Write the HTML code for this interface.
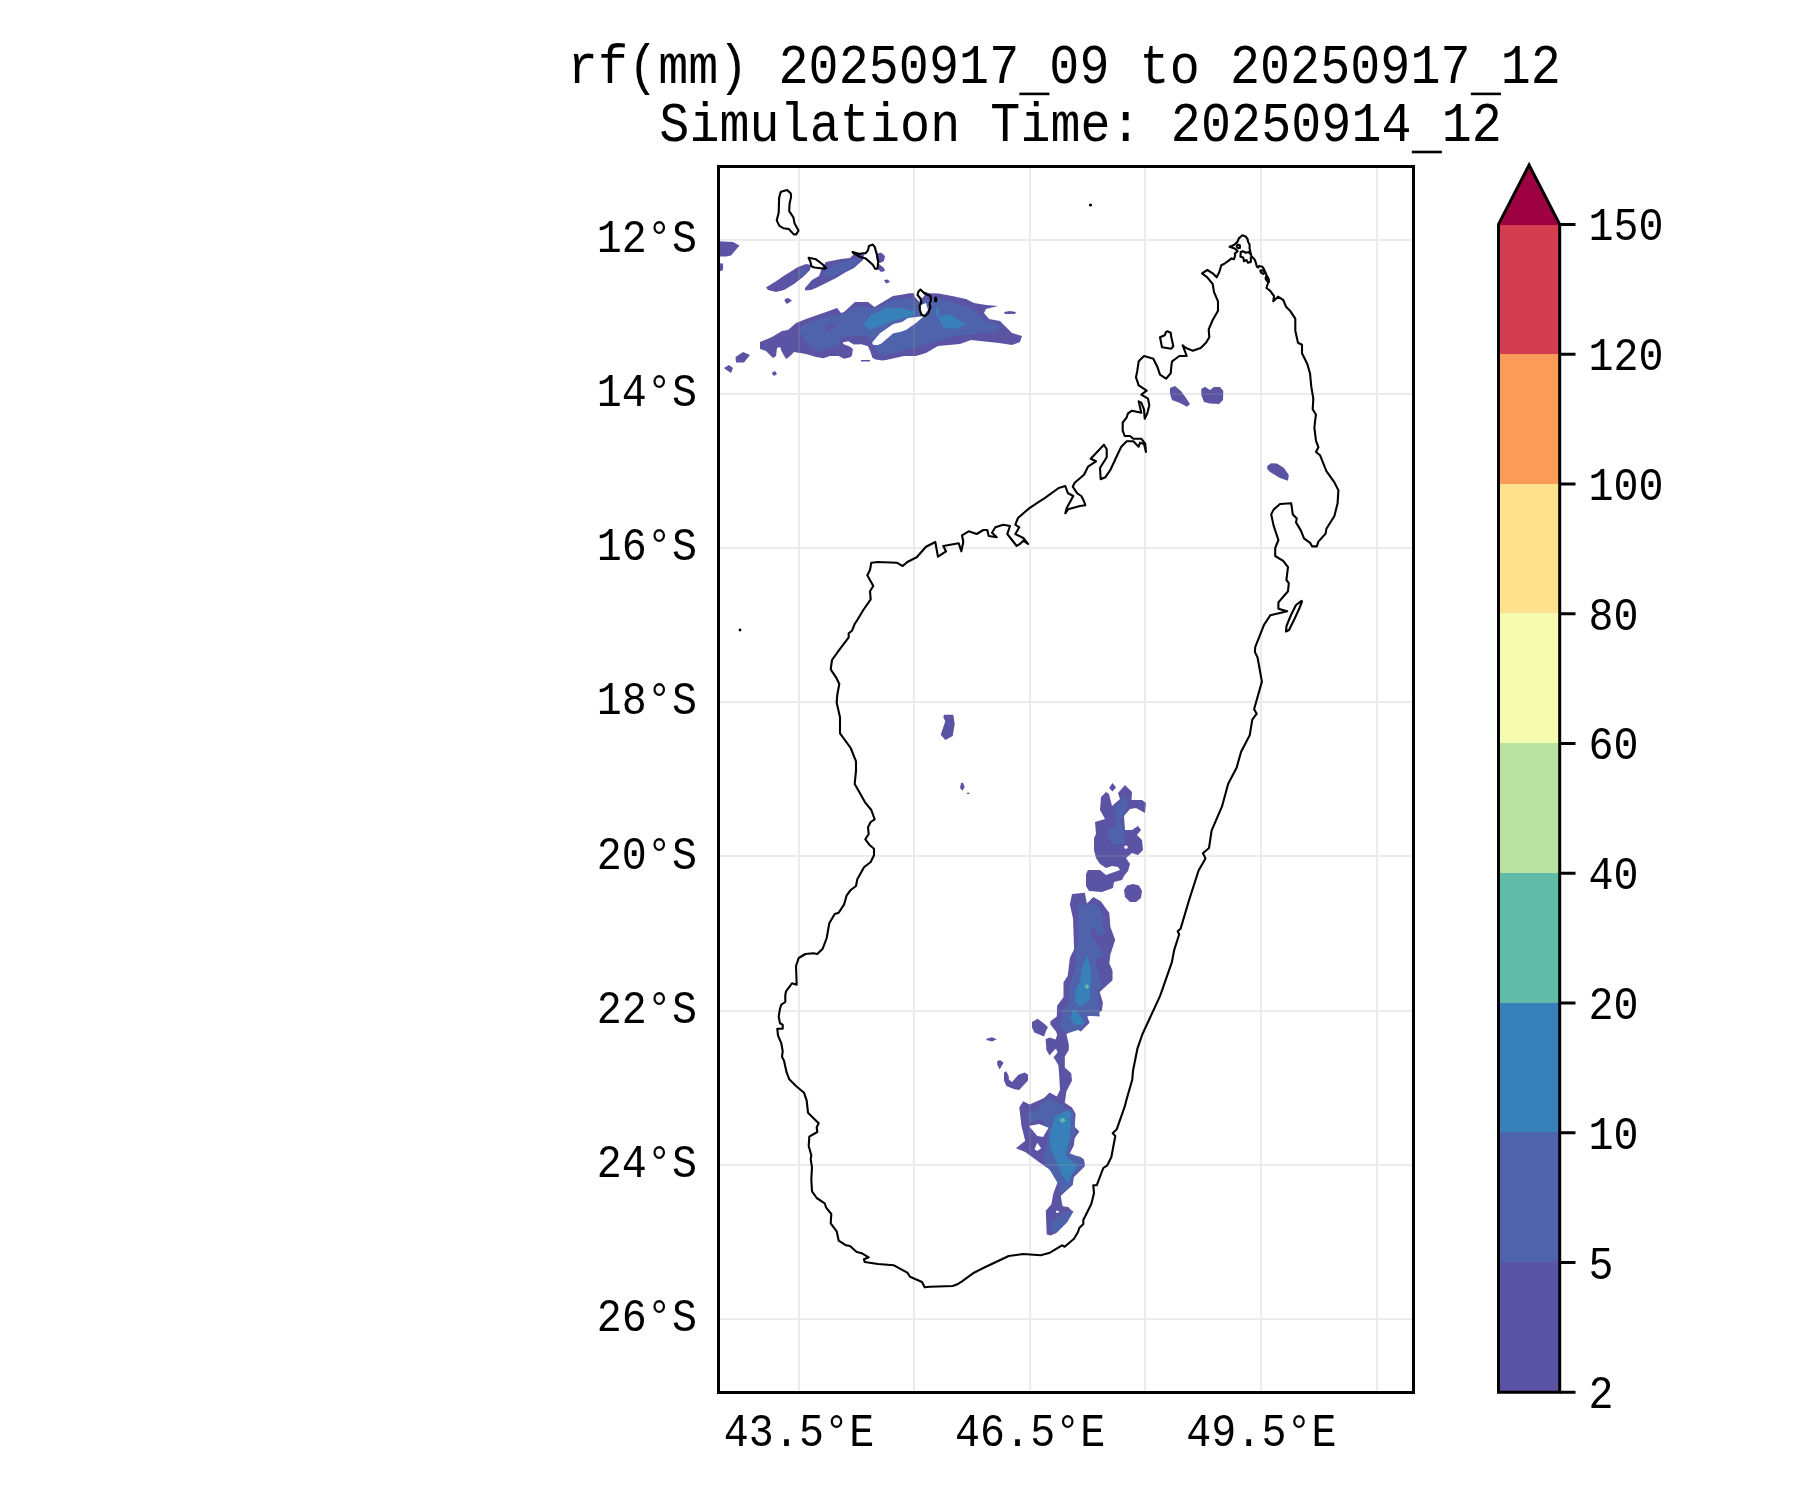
<!DOCTYPE html>
<html><head><meta charset="utf-8"><style>
html,body{margin:0;padding:0;background:#fff;width:1800px;height:1500px;overflow:hidden}
svg{display:block}
text{font-family:"Liberation Mono",monospace;fill:#000}
.t{filter:drop-shadow(0 0 0 transparent)}
</style></head><body>
<svg width="1800" height="1500" viewBox="0 0 1800 1500">
<defs><clipPath id="clip"><rect x="718.5" y="166.5" width="695.0" height="1226.0"/></clipPath></defs>
<g clip-path="url(#clip)"><path d="M714.0 241.0L733.0 242.0L739.5 245.5L731.0 255.5L726.0 256.5L714.0 256.5Z" fill="#5b53a4"/>
<path d="M714.0 263.0L723.0 263.5L723.0 270.0L714.0 274.0Z" fill="#5b53a4"/>
<path d="M766.0 287.5L778.0 280.0L782.0 277.0L798.0 267.0L806.0 264.0L811.0 265.0L810.0 270.0L803.0 277.0L794.0 284.0L784.0 290.0L776.0 292.0L768.0 290.0Z" fill="#5b53a4"/>
<path d="M798.0 270.0L806.0 268.0L804.0 275.0L798.0 276.0Z" fill="#4e63ac"/>
<path d="M805.0 288.0L812.0 280.0L819.0 276.0L822.0 268.0L826.0 262.0L841.0 259.0L850.0 258.0L854.0 254.0L864.0 255.0L863.0 260.0L854.0 268.0L846.0 272.0L836.0 278.0L826.0 283.0L816.0 288.0L811.0 290.0L805.0 290.5Z" fill="#5b53a4"/>
<path d="M823.0 273.0L836.0 264.0L851.0 260.0L861.0 258.0L856.0 264.0L846.0 270.0L831.0 277.0L824.0 278.0Z" fill="#4e63ac"/>
<path d="M785.0 299.0L788.0 298.0L792.0 300.5L787.0 304.0L784.5 301.0Z" fill="#5b53a4"/>
<path d="M876.0 254.0L881.0 252.5L885.0 256.0L884.0 261.0L880.0 263.0L877.0 262.0Z" fill="#5b53a4"/>
<path d="M879.0 264.0L884.0 268.0L885.0 271.0L881.0 272.0L878.0 269.0Z" fill="#5b53a4"/>
<path d="M735.5 357.0L743.0 352.0L750.0 355.0L744.0 362.5L736.0 362.5Z" fill="#5b53a4"/>
<path d="M724.0 368.0L729.0 365.0L733.0 368.0L731.0 373.0L725.0 369.0Z" fill="#5b53a4"/>
<path d="M771.5 373.0L775.0 371.0L777.0 374.0L774.0 376.0Z" fill="#5b53a4"/>
<path d="M861.0 360.0L870.0 360.0L870.0 361.5L861.0 361.5Z" fill="#5b53a4"/>
<path d="M760.0 342.0L772.0 337.0L782.0 331.0L788.0 330.0L796.0 323.0L806.0 319.0L826.0 312.0L837.0 308.0L841.0 313.0L844.0 312.0L855.0 302.0L868.0 302.0L874.5 307.0L893.0 296.0L904.2 294.2L909.2 293.2L913.9 293.2L914.7 296.7L919.3 301.8L921.0 300.0L920.0 295.0L925.0 292.0L929.8 293.2L938.8 293.4L952.0 296.0L966.0 299.0L974.0 303.0L986.0 305.0L998.0 306.0L986.0 309.0L984.0 313.0L989.0 319.0L1000.0 321.0L1012.0 333.0L1022.0 336.0L1020.0 342.0L1012.0 345.0L999.0 343.0L971.0 340.0L960.0 344.0L938.0 346.0L926.0 353.0L916.0 356.0L904.0 356.0L886.0 360.0L882.2 360.4L875.6 359.6L872.4 357.8L870.2 351.1L868.0 346.2L861.3 344.2L853.8 344.4L848.4 341.3L843.1 342.2L843.1 344.0L850.2 346.7L852.9 348.9L852.0 355.6L850.2 357.3L844.0 358.7L838.7 356.0L829.8 356.0L823.6 358.2L816.0 357.0L806.0 354.0L794.0 352.0L789.0 357.0L786.0 359.0L782.0 352.0L780.0 347.0L777.0 348.0L776.0 356.0L773.0 358.0L766.0 351.0L760.0 349.0Z" fill="#5b53a4"/>
<path d="M799.0 329.0L806.0 323.0L826.0 317.0L836.0 315.0L845.0 313.0L855.0 306.0L876.0 308.0L894.0 299.0L909.6 297.9L915.4 301.0L919.0 303.0L922.0 300.0L933.0 297.9L938.8 298.3L950.5 301.4L962.0 305.3L971.0 308.0L976.0 312.0L984.0 320.0L998.0 324.0L1001.0 328.0L994.0 332.0L971.0 334.0L951.0 337.0L936.0 342.0L926.0 344.0L906.0 350.0L882.2 355.6L875.6 348.9L868.0 336.9L857.8 335.6L841.3 337.8L838.7 344.9L829.8 347.6L820.0 352.0L816.0 350.0L806.0 342.0L802.0 336.0Z" fill="#4e63ac"/>
<path d="M863.0 324.0L871.0 315.0L886.0 308.0L901.0 308.0L916.0 312.0L912.0 316.0L896.0 320.0L881.0 326.0L869.0 330.0Z" fill="#3880b9"/>
<path d="M938.0 318.0L949.0 314.0L966.0 324.0L956.0 329.0L944.0 328.0Z" fill="#3880b9"/>
<path d="M936.0 308.0L939.0 308.0L939.0 317.0L936.0 316.0Z" fill="#3880b9"/>
<path d="M872.0 342.7L880.0 333.3L893.3 324.0L902.0 322.0L908.0 318.0L924.0 316.0L916.0 323.0L906.0 330.0L900.0 332.0L893.3 333.3L881.3 343.6L877.8 344.9L873.3 344.9Z" fill="#ffffff"/>
<path d="M826.0 324.0L835.6 324.0L832.0 330.7L826.0 330.7Z" fill="#5b53a4"/>
<path d="M884.0 280.0L888.0 279.5L890.0 282.0L886.0 283.5Z" fill="#5b53a4"/>
<path d="M1004.0 312.0L1010.0 311.0L1016.0 312.0L1015.0 314.0L1005.0 314.0Z" fill="#5b53a4"/>
<path d="M921.0 305.0L926.0 303.0L928.0 310.0L924.0 315.0L920.0 311.0Z" fill="#ffffff"/>
<path d="M918.0 293.0L922.0 291.5L924.5 295.5L922.5 298.0L919.0 296.5Z" fill="#ffffff"/>
<path d="M1170.0 388.0L1175.0 386.0L1181.0 391.0L1186.0 398.0L1190.0 404.0L1187.0 406.7L1180.0 403.0L1172.0 400.0L1170.0 394.0Z" fill="#5b53a4"/>
<path d="M1201.3 389.0L1205.0 386.7L1210.0 390.0L1214.0 387.0L1220.0 387.0L1223.3 391.0L1223.0 400.0L1219.0 404.0L1210.0 403.5L1204.0 402.0L1201.3 395.0Z" fill="#5b53a4"/>
<path d="M1267.2 466.0L1271.0 463.2L1277.0 463.5L1284.0 468.0L1288.8 475.0L1288.0 480.8L1280.0 478.0L1270.0 472.0L1267.2 469.0Z" fill="#5b53a4"/>
<path d="M944.0 714.7L953.3 714.7L954.7 724.0L952.7 736.0L945.3 740.0L940.7 734.7L945.3 721.3L943.3 717.3Z" fill="#5b53a4"/>
<path d="M961.0 783.0L963.0 782.7L964.7 787.0L962.5 790.7L960.0 788.0Z" fill="#5b53a4"/>
<path d="M967.0 792.7L969.5 792.7L969.5 794.0L967.0 794.0Z" fill="#5b53a4"/>
<path d="M1109.0 788.0L1112.5 783.0L1116.0 787.5L1112.5 791.5Z" fill="#5b53a4"/>
<path d="M1106.0 792.0L1109.0 794.0L1112.0 806.0L1120.0 799.0L1118.0 793.0L1125.0 785.0L1132.0 792.0L1131.5 800.0L1142.0 800.0L1146.0 803.0L1145.0 813.0L1136.0 808.0L1130.0 809.0L1124.0 816.0L1125.0 830.0L1132.0 830.0L1138.0 826.0L1141.0 830.0L1137.0 835.0L1142.0 840.0L1143.0 850.0L1138.0 855.0L1132.0 853.0L1126.0 858.0L1130.0 864.0L1128.0 871.0L1124.0 876.0L1122.0 880.0L1114.0 882.0L1113.0 888.0L1102.0 892.0L1089.0 891.0L1086.0 886.0L1086.0 874.0L1088.0 870.0L1100.0 870.0L1106.0 875.0L1120.0 870.0L1118.0 867.0L1112.0 866.0L1106.0 868.0L1100.0 864.0L1096.0 858.0L1094.0 850.0L1094.0 838.0L1096.0 834.0L1095.0 822.0L1105.0 819.0L1100.0 810.0L1101.0 797.0Z" fill="#5b53a4"/>
<path d="M1114.0 810.0L1120.0 802.0L1125.0 793.0L1128.0 803.0L1124.0 815.0L1120.0 820.0L1124.0 832.0L1124.0 844.0L1112.0 845.0L1106.0 830.0L1115.0 828.0L1117.0 818.0Z" fill="#4e63ac"/>
<path d="M1124.0 846.0L1127.0 845.5L1128.0 848.0L1125.0 849.0Z" fill="#ffffff"/>
<path d="M1133.0 884.0L1139.0 885.5L1142.0 891.0L1141.0 898.0L1136.0 902.0L1130.0 902.0L1125.0 897.0L1124.0 890.0L1127.0 885.5Z" fill="#5b53a4"/>
<path d="M1072.0 893.9L1084.8 892.8L1086.9 903.5L1093.3 897.1L1100.8 901.3L1109.3 913.0L1110.4 926.9L1115.2 939.7L1110.4 954.6L1109.3 963.2L1112.5 970.6L1112.5 980.2L1099.7 991.9L1102.9 1002.6L1101.8 1011.1L1095.2 1014.0L1087.2 1016.4L1089.6 1022.8L1080.8 1031.6L1076.0 1028.4L1066.4 1034.0L1068.8 1044.4L1068.8 1050.0L1064.8 1056.4L1064.8 1067.6L1071.2 1073.2L1072.0 1080.4L1066.4 1091.6L1064.8 1102.8L1072.0 1107.6L1075.6 1113.7L1074.7 1126.8L1079.4 1131.5L1074.7 1138.0L1073.8 1145.5L1069.1 1154.8L1080.3 1156.7L1084.0 1159.5L1085.0 1166.0L1073.8 1177.2L1072.8 1184.7L1060.7 1195.9L1062.6 1206.2L1068.2 1207.1L1072.8 1211.8L1067.2 1222.0L1056.0 1233.2L1050.4 1235.6L1046.7 1234.2L1045.8 1210.8L1051.4 1204.3L1053.2 1194.0L1057.0 1183.8L1060.7 1177.2L1039.2 1162.3L1025.2 1152.0L1015.9 1148.3L1025.2 1140.8L1021.5 1125.9L1019.6 1110.0L1019.2 1107.6L1023.2 1101.2L1029.6 1104.4L1044.0 1098.0L1049.6 1092.4L1056.8 1096.4L1060.0 1090.0L1059.2 1075.6L1058.4 1065.2L1053.6 1057.2L1057.6 1052.4L1056.0 1048.4L1053.6 1050.8L1049.6 1055.6L1046.4 1050.0L1045.6 1039.2L1049.6 1037.6L1055.6 1039.6L1057.2 1034.8L1056.0 1031.6L1050.4 1024.4L1050.4 1021.2L1056.8 1016.4L1057.1 1005.8L1063.5 997.3L1063.5 982.3L1067.7 975.9L1069.9 957.8L1074.1 949.3L1073.0 918.4L1069.9 904.5Z" fill="#5b53a4"/>
<path d="M1078.4 901.3L1086.9 905.6L1095.4 903.5L1104.0 916.2L1101.8 922.6L1106.1 933.3L1099.7 935.4L1091.2 926.9L1091.2 935.4L1104.0 954.6L1095.4 958.9L1101.8 986.6L1097.6 990.9L1099.7 1016.5L1085.8 1015.4L1086.9 1021.8L1080.5 1029.3L1066.7 1033.5L1059.2 1026.1L1063.5 1007.9L1068.8 1003.7L1068.8 986.6L1075.2 969.6L1076.2 948.2L1078.4 941.8L1078.4 907.7Z" fill="#4e63ac"/>
<path d="M1086.9 955.7L1090.1 965.3L1091.2 975.9L1090.1 986.6L1090.1 999.4L1080.5 1006.9L1075.2 1001.6L1075.2 990.9L1080.5 980.2L1081.6 968.5Z" fill="#3880b9"/>
<path d="M1074.1 1007.9L1082.6 1018.6L1084.8 1023.9L1075.2 1025.0L1069.9 1018.6Z" fill="#3880b9"/>
<path d="M1086.9 984.0L1089.5 986.6L1086.9 989.2L1084.3 986.6Z" fill="#60bba8"/>
<path d="M1025.6 1114.0L1036.0 1110.0L1048.0 1098.0L1060.0 1103.6L1068.0 1110.0L1073.8 1110.0L1074.7 1128.7L1076.6 1132.4L1072.8 1138.0L1069.1 1153.0L1082.2 1158.6L1081.2 1167.9L1072.8 1175.4L1072.8 1184.7L1060.7 1194.0L1057.0 1181.9L1048.6 1167.9L1043.0 1156.7L1046.7 1142.7L1048.6 1128.7L1041.1 1119.3L1029.9 1122.1Z" fill="#4e63ac"/>
<path d="M1054.4 1116.4L1068.0 1110.0L1071.0 1111.9L1070.0 1138.0L1065.4 1154.8L1070.0 1159.5L1077.5 1166.0L1071.0 1175.4L1068.2 1183.8L1059.8 1170.7L1050.4 1147.3L1049.5 1136.1L1055.1 1114.7Z" fill="#3880b9"/>
<path d="M1062.6 1117.5L1066.0 1120.3L1062.6 1123.0L1059.2 1120.3Z" fill="#60bba8"/>
<path d="M1051.4 1222.0L1065.4 1211.8L1073.8 1210.8L1067.2 1222.0L1057.0 1232.3L1051.4 1232.3Z" fill="#4e63ac"/>
<path d="M1028.9 1125.9L1039.2 1124.0L1048.6 1127.7L1043.0 1137.1L1037.3 1136.1Z" fill="#ffffff"/>
<path d="M1037.3 1142.7L1041.1 1148.3L1037.3 1151.1L1034.5 1149.2Z" fill="#ffffff"/>
<path d="M1056.0 1210.8L1058.8 1210.8L1058.8 1212.7L1056.0 1212.7Z" fill="#ffffff"/>
<path d="M1032.0 1022.0L1037.6 1018.8L1044.0 1023.6L1048.0 1027.2L1046.4 1030.0L1044.0 1036.4L1034.4 1032.4L1032.0 1027.6Z" fill="#5b53a4"/>
<path d="M986.4 1038.8L992.0 1037.2L996.8 1039.2L992.0 1041.6L986.4 1040.0Z" fill="#5b53a4"/>
<path d="M997.2 1061.2L1000.0 1060.0L1003.6 1062.8L999.6 1069.6L997.2 1064.4Z" fill="#5b53a4"/>
<path d="M1004.0 1072.4L1006.4 1071.2L1008.8 1076.4L1008.8 1079.6L1012.0 1082.0L1018.4 1074.8L1024.8 1072.4L1028.0 1074.8L1028.0 1080.4L1019.2 1090.0L1014.4 1089.2L1006.4 1086.0L1004.0 1080.4Z" fill="#5b53a4"/>
<path d="M799.0 166.5V1392.5M914.0 166.5V1392.5M1030.1 166.5V1392.5M1145.0 166.5V1392.5M1261.1 166.5V1392.5M1377.0 166.5V1392.5M718.5 240.0H1413.5M718.5 394.0H1413.5M718.5 548.0H1413.5M718.5 702.0H1413.5M718.5 856.0H1413.5M718.5 1011.0H1413.5M718.5 1165.0H1413.5M718.5 1319.0H1413.5" stroke="#a1a1a1" stroke-opacity="0.213" stroke-width="2" fill="none"/>
<path d="M1242.4 235.2L1245.6 236.4L1247.6 239.2L1248.0 241.6L1249.6 244.8L1249.6 248.8L1250.4 252.0L1251.2 255.2L1248.8 252.0L1246.0 252.8L1242.8 251.2L1240.8 252.0L1240.4 256.8L1243.2 257.6L1244.0 261.2L1246.4 260.0L1248.0 262.8L1250.8 262.0L1250.8 257.6L1251.6 256.4L1254.4 259.2L1255.6 262.0L1256.8 266.4L1258.0 267.6L1259.2 266.0L1262.4 266.8L1264.0 269.2L1266.0 274.0L1268.0 278.0L1268.4 282.0L1266.4 288.0L1270.0 290.7L1274.0 296.0L1273.3 301.3L1278.0 296.7L1283.3 300.0L1286.0 306.7L1290.0 310.7L1295.3 318.7L1295.3 330.7L1298.0 342.7L1302.0 344.7L1302.0 353.3L1307.3 364.0L1310.0 373.3L1311.3 386.7L1313.3 398.7L1312.7 409.3L1316.0 414.7L1315.2 420.0L1314.4 428.0L1316.0 440.8L1318.4 447.2L1316.0 452.0L1320.0 455.2L1326.4 471.2L1334.4 482.4L1338.4 490.4L1337.6 503.2L1334.4 516.0L1326.4 528.8L1325.6 533.6L1318.4 541.6L1316.8 546.4L1312.0 546.4L1310.4 543.2L1304.0 538.4L1300.8 530.4L1296.0 522.4L1296.8 518.4L1292.8 514.4L1291.2 503.2L1280.0 504.0L1273.6 509.6L1271.2 514.4L1273.6 525.6L1278.4 540.0L1275.2 548.0L1275.2 556.0L1283.2 560.8L1288.0 567.2L1286.4 580.0L1288.8 583.2L1288.0 591.2L1278.4 602.4L1278.4 608.8L1287.2 611.2L1270.4 615.2L1264.0 624.8L1255.2 647.2L1254.9 652.1L1257.5 657.3L1261.9 681.6L1254.1 709.3L1256.7 713.7L1252.3 719.7L1249.7 735.3L1241.1 751.8L1236.7 767.4L1228.1 783.9L1222.0 806.4L1211.6 830.7L1209.0 848.0L1202.9 853.2L1205.5 858.4L1198.6 870.5L1189.1 900.0L1180.7 928.4L1177.7 931.3L1179.2 934.3L1174.1 950.4L1171.9 962.1L1160.1 995.9L1142.5 1034.0L1137.4 1048.7L1133.0 1070.7L1132.3 1079.5L1126.4 1100.0L1124.7 1106.7L1116.7 1129.3L1112.7 1133.3L1115.3 1136.0L1111.3 1157.3L1107.3 1165.3L1103.3 1168.0L1096.7 1185.3L1093.3 1185.3L1094.0 1193.3L1091.3 1204.0L1083.3 1220.0L1083.3 1224.0L1079.3 1228.0L1078.0 1232.0L1074.0 1238.7L1064.7 1246.7L1062.0 1245.3L1050.0 1252.7L1040.7 1255.3L1023.3 1254.0L1008.7 1256.0L983.3 1268.0L974.0 1272.7L962.0 1281.3L958.0 1284.0L952.7 1286.0L930.0 1286.7L924.7 1287.3L922.0 1282.0L910.0 1276.7L907.3 1272.7L894.0 1265.3L878.0 1264.0L864.7 1262.0L864.0 1259.3L868.7 1257.3L862.0 1253.3L856.7 1252.0L850.0 1246.0L846.0 1245.3L838.7 1240.7L836.7 1231.3L830.7 1223.3L831.3 1214.0L826.0 1207.3L824.7 1203.3L816.7 1198.0L812.0 1191.3L811.3 1179.3L812.0 1167.3L810.7 1159.3L811.3 1155.3L808.7 1146.0L809.3 1136.7L817.3 1132.0L816.7 1127.3L818.7 1123.3L812.0 1116.7L808.0 1112.7L806.7 1100.7L804.0 1092.7L796.0 1086.0L789.3 1079.3L786.7 1072.7L784.0 1060.7L782.0 1056.7L782.7 1051.3L781.3 1043.3L778.0 1035.3L777.3 1028.7L782.7 1028.7L782.7 1024.7L780.0 1023.3L778.7 1016.7L780.0 1008.7L781.3 1004.7L785.3 1002.0L785.3 995.3L786.0 991.3L792.0 983.3L796.7 984.7L796.0 966.0L798.7 958.0L805.3 954.0L813.3 953.3L817.3 954.0L822.7 948.7L826.7 938.0L829.3 923.3L834.7 914.0L838.7 912.7L844.0 904.7L846.7 895.3L850.7 890.0L856.0 886.0L857.3 879.3L864.0 867.3L870.7 862.0L874.0 855.3L874.0 848.7L869.3 844.7L865.3 839.3L868.7 834.0L868.0 827.3L870.7 822.0L874.7 819.3L871.3 810.0L865.3 802.7L860.0 793.3L854.7 784.0L856.0 770.7L856.0 761.3L850.7 748.0L840.0 733.3L840.0 717.3L836.7 702.7L837.3 694.7L839.3 684.0L836.0 677.3L830.7 669.3L832.0 660.0L838.7 650.7L848.7 637.3L848.7 633.3L852.0 630.7L854.7 624.0L857.3 620.0L863.3 610.0L870.7 599.3L870.0 591.3L873.3 586.0L867.3 575.3L870.0 570.0L871.3 562.7L878.0 562.0L896.7 562.7L902.7 566.0L907.3 562.0L916.7 557.3L926.0 546.7L935.3 542.0L938.0 556.7L946.0 551.3L943.3 546.0L958.7 543.3L961.3 551.3L963.3 542.0L962.0 535.3L968.7 531.3L976.7 534.0L983.3 530.0L987.3 530.0L988.7 536.0L996.7 537.3L992.0 532.7L995.3 527.3L1003.3 524.7L1010.0 526.0L1007.3 534.0L1016.7 546.0L1020.7 543.3L1023.3 540.7L1028.0 544.0L1023.3 538.0L1015.3 534.0L1019.3 527.3L1015.3 524.7L1018.0 518.0L1028.7 508.7L1040.7 500.7L1044.0 498.7L1058.7 488.0L1065.3 486.0L1068.0 493.3L1073.3 496.0L1066.7 508.0L1065.3 513.3L1068.0 509.3L1080.0 506.0L1085.3 505.3L1084.0 501.3L1081.3 496.0L1077.3 493.3L1072.7 486.7L1074.7 482.7L1084.0 474.7L1088.0 466.7L1096.0 461.3L1090.7 458.7L1104.0 444.7L1106.7 449.3L1106.7 457.3L1100.0 468.0L1100.7 479.3L1105.3 477.3L1110.7 469.3L1118.7 452.0L1121.3 446.7L1126.7 441.3L1133.3 441.3L1138.7 446.7L1140.0 442.7L1144.0 444.0L1146.0 452.0L1145.3 444.0L1141.3 438.7L1133.3 438.7L1130.0 436.0L1124.7 436.0L1122.7 430.7L1122.7 422.7L1126.7 417.3L1128.0 413.3L1132.0 410.7L1141.3 412.7L1138.7 401.3L1141.3 402.7L1144.0 409.3L1144.7 418.7L1147.3 413.3L1149.3 405.3L1148.0 398.7L1141.3 394.7L1146.7 390.7L1138.7 385.3L1136.0 377.3L1137.3 370.7L1138.7 361.3L1144.0 356.0L1146.7 356.7L1153.3 358.7L1157.3 366.7L1160.0 374.7L1166.0 378.7L1170.7 373.3L1171.3 366.7L1172.0 361.3L1174.0 360.0L1179.3 356.0L1186.7 356.0L1182.7 345.3L1186.0 348.0L1192.7 350.7L1200.7 348.0L1206.0 342.7L1209.3 337.3L1208.7 329.3L1212.7 320.0L1218.0 310.7L1218.0 301.3L1214.0 292.0L1212.7 284.0L1207.3 277.3L1202.0 273.3L1207.3 270.0L1212.7 273.3L1216.7 277.3L1219.3 272.0L1221.3 265.3L1224.0 264.0L1228.0 261.2L1231.6 258.4L1234.0 259.2L1235.2 255.2L1234.8 253.6L1237.6 251.2L1235.2 248.8L1229.6 246.8L1234.4 244.8L1237.6 241.6L1238.8 238.4Z" fill="none" stroke="#000" stroke-width="2.1" stroke-linejoin="round"/>
<path d="M1237.5 244.5L1239.8 245.2L1240.0 247.8L1238.0 248.2L1236.8 246.5Z" fill="none" stroke="#000" stroke-width="2.1" stroke-linejoin="round"/>
<path d="M1260.3 270.5L1263.0 270.2L1264.6 272.5L1263.5 274.0L1261.0 272.6Z" fill="none" stroke="#000" stroke-width="2.1" stroke-linejoin="round"/>
<path d="M1266.0 276.5L1268.5 278.5L1269.0 282.0L1267.0 281.0L1265.6 278.8Z" fill="none" stroke="#000" stroke-width="2.1" stroke-linejoin="round"/>
<path d="M1167.3 331.3L1170.7 332.7L1171.3 337.3L1173.3 346.0L1171.3 348.7L1162.0 347.3L1160.0 337.3L1164.7 335.3L1166.0 332.0Z" fill="none" stroke="#000" stroke-width="2.1" stroke-linejoin="round"/>
<path d="M1301.6 600.8L1296.0 605.0L1291.0 615.0L1286.5 626.0L1286.0 631.5L1289.0 630.0L1294.0 620.0L1299.5 608.0L1302.0 601.5Z" fill="none" stroke="#000" stroke-width="2.1" stroke-linejoin="round"/>
<path d="M781.0 191.7L787.2 190.1L790.7 193.2L791.1 197.1L789.6 203.3L789.2 211.1L793.4 217.3L794.6 223.6L798.5 230.6L796.2 234.4L793.8 234.4L788.8 229.0L783.3 228.2L779.4 225.9L776.7 220.4L777.9 215.8L778.7 212.7L779.1 197.9L780.6 192.4Z" fill="none" stroke="#000" stroke-width="2.1" stroke-linejoin="round"/>
<path d="M808.6 257.8L816.0 259.3L822.2 264.0L826.1 267.9L824.6 268.7L814.4 267.5L811.3 266.3L810.6 262.4Z" fill="none" stroke="#000" stroke-width="2.1" stroke-linejoin="round"/>
<path d="M852.6 251.9L859.6 253.9L865.8 253.1L868.1 250.0L868.9 246.1L872.8 244.6L874.7 246.9L876.7 253.9L878.2 261.7L877.5 268.7L875.1 268.7L872.8 264.8L865.8 258.6L860.3 257.0L853.3 253.1Z" fill="none" stroke="#000" stroke-width="2.1" stroke-linejoin="round"/>
<path d="M920.5 289.5L923.5 292.5L927.0 294.5L930.5 296.0L931.0 300.0L929.5 304.0L930.5 307.0L928.0 313.5L925.0 316.0L921.5 315.0L920.0 310.0L919.5 306.0L921.5 302.0L920.0 298.0L917.5 295.0L918.5 291.5Z" fill="none" stroke="#000" stroke-width="2.1" stroke-linejoin="round"/>
<circle cx="1090.5" cy="205" r="1.6" fill="#000"/><circle cx="740" cy="630" r="1.4" fill="#000"/><ellipse cx="935.7" cy="299.5" rx="1.7" ry="3" fill="#000"/></g>
<rect x="718.5" y="166.5" width="695.0" height="1226.0" fill="none" stroke="#000" stroke-width="3"/>
<g class="t" transform="translate(567.85,83.10) scale(1,1.106)"><text x="0" y="0" font-size="50.0" letter-spacing="0.095">rf(mm) 20250917 09 to 20250917 12</text></g>
<rect x="1019.35" y="92.6" width="30.10" height="2.6" fill="#000"/>
<rect x="1470.85" y="92.6" width="30.10" height="2.6" fill="#000"/>
<g class="t" transform="translate(659.30,141.10) scale(1,1.106)"><text x="0" y="0" font-size="50.0" letter-spacing="0.095">Simulation Time: 20250914 12</text></g>
<rect x="1411.80" y="150.7" width="30.10" height="2.6" fill="#000"/>
<g class="t" transform="translate(596.70,252.00) scale(1,1.106)"><text x="0" y="0" font-size="41.67" letter-spacing="0.080">12°S</text></g>
<g class="t" transform="translate(596.70,406.14) scale(1,1.106)"><text x="0" y="0" font-size="41.67" letter-spacing="0.080">14°S</text></g>
<g class="t" transform="translate(596.70,560.28) scale(1,1.106)"><text x="0" y="0" font-size="41.67" letter-spacing="0.080">16°S</text></g>
<g class="t" transform="translate(596.70,714.42) scale(1,1.106)"><text x="0" y="0" font-size="41.67" letter-spacing="0.080">18°S</text></g>
<g class="t" transform="translate(596.70,868.56) scale(1,1.106)"><text x="0" y="0" font-size="41.67" letter-spacing="0.080">20°S</text></g>
<g class="t" transform="translate(596.70,1022.70) scale(1,1.106)"><text x="0" y="0" font-size="41.67" letter-spacing="0.080">22°S</text></g>
<g class="t" transform="translate(596.70,1176.84) scale(1,1.106)"><text x="0" y="0" font-size="41.67" letter-spacing="0.080">24°S</text></g>
<g class="t" transform="translate(596.70,1330.98) scale(1,1.106)"><text x="0" y="0" font-size="41.67" letter-spacing="0.080">26°S</text></g>
<g class="t" transform="translate(723.75,1446.00) scale(1,1.106)"><text x="0" y="0" font-size="41.67" letter-spacing="0.080">43.5°E</text></g>
<g class="t" transform="translate(954.95,1446.00) scale(1,1.106)"><text x="0" y="0" font-size="41.67" letter-spacing="0.080">46.5°E</text></g>
<g class="t" transform="translate(1186.15,1446.00) scale(1,1.106)"><text x="0" y="0" font-size="41.67" letter-spacing="0.080">49.5°E</text></g>
<rect x="1498.5" y="1262.13" width="61.20" height="130.17" fill="#5b53a4" shape-rendering="crispEdges"/>
<rect x="1498.5" y="1132.37" width="61.20" height="129.77" fill="#4e63ac" shape-rendering="crispEdges"/>
<rect x="1498.5" y="1002.60" width="61.20" height="129.77" fill="#3880b9" shape-rendering="crispEdges"/>
<rect x="1498.5" y="872.83" width="61.20" height="129.77" fill="#60bba8" shape-rendering="crispEdges"/>
<rect x="1498.5" y="743.07" width="61.20" height="129.77" fill="#bae3a1" shape-rendering="crispEdges"/>
<rect x="1498.5" y="613.30" width="61.20" height="129.77" fill="#f5fbaf" shape-rendering="crispEdges"/>
<rect x="1498.5" y="483.53" width="61.20" height="129.77" fill="#fee18d" shape-rendering="crispEdges"/>
<rect x="1498.5" y="353.77" width="61.20" height="129.77" fill="#fa9b58" shape-rendering="crispEdges"/>
<rect x="1498.5" y="224.00" width="61.20" height="129.77" fill="#d43d4f" shape-rendering="crispEdges"/>
<path d="M1498.5 224.9L1529.10 165.0L1559.7 224.9Z" fill="#9e0142"/>
<path d="M1498.5 1392.3V224.4L1529.10 165.0L1559.7 224.4V1392.3Z" fill="none" stroke="#000" stroke-width="3" stroke-linejoin="miter"/>
<g class="t" transform="translate(1588.40,1408.30) scale(1,1.106)"><text x="0" y="0" font-size="41.67" letter-spacing="0.080">2</text></g>
<g class="t" transform="translate(1588.40,1278.53) scale(1,1.106)"><text x="0" y="0" font-size="41.67" letter-spacing="0.080">5</text></g>
<g class="t" transform="translate(1588.40,1148.77) scale(1,1.106)"><text x="0" y="0" font-size="41.67" letter-spacing="0.080">10</text></g>
<g class="t" transform="translate(1588.40,1019.00) scale(1,1.106)"><text x="0" y="0" font-size="41.67" letter-spacing="0.080">20</text></g>
<g class="t" transform="translate(1588.40,889.23) scale(1,1.106)"><text x="0" y="0" font-size="41.67" letter-spacing="0.080">40</text></g>
<g class="t" transform="translate(1588.40,759.47) scale(1,1.106)"><text x="0" y="0" font-size="41.67" letter-spacing="0.080">60</text></g>
<g class="t" transform="translate(1588.40,629.70) scale(1,1.106)"><text x="0" y="0" font-size="41.67" letter-spacing="0.080">80</text></g>
<g class="t" transform="translate(1588.40,499.93) scale(1,1.106)"><text x="0" y="0" font-size="41.67" letter-spacing="0.080">100</text></g>
<g class="t" transform="translate(1588.40,370.17) scale(1,1.106)"><text x="0" y="0" font-size="41.67" letter-spacing="0.080">120</text></g>
<g class="t" transform="translate(1588.40,240.40) scale(1,1.106)"><text x="0" y="0" font-size="41.67" letter-spacing="0.080">150</text></g>
<path d="M1559.7 1392.30H1575.5M1559.7 1262.53H1575.5M1559.7 1132.77H1575.5M1559.7 1003.00H1575.5M1559.7 873.23H1575.5M1559.7 743.47H1575.5M1559.7 613.70H1575.5M1559.7 483.93H1575.5M1559.7 354.17H1575.5M1559.7 224.40H1575.5" stroke="#000" stroke-width="3"/>
</svg></body></html>
